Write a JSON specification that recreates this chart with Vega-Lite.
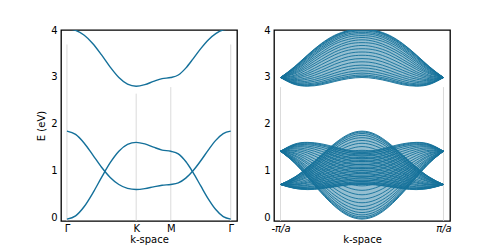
{
"$schema":"https://vega.github.io/schema/vega-lite/v6.json",
"background":"white",
"padding":{"left":35,"top":24,"right":5,"bottom":0},
"spacing":24,
"config":{"view":{"stroke":"#000","strokeWidth":1.3},"axis":{"grid":false,"domain":false,"ticks":false,"labelFont":"DejaVu Sans","labelFontSize":10,"labelColor":"#000","titleFont":"DejaVu Sans","titleFontSize":10,"titleFontWeight":"normal","titleColor":"#000","labelFlush":false,"labelOverlap":false}},
"datasets":{
"vl":[{"x":0,"t":3.69},{"x":4.1888,"t":2.64},{"x":6.2832,"t":2.78},{"x":9.9108,"t":3.69}],
"vr":[{"k":-180,"t":2.78},{"k":180,"t":2.78}],
"env":[
{"k":-180,"b":"A","lo":1.41,"hi":1.41},{"k":-150,"b":"A","lo":1.17,"hi":1.56},{"k":-120,"b":"A","lo":0.85,"hi":1.6},{"k":-90,"b":"A","lo":0.52,"hi":1.57},{"k":-60,"b":"A","lo":0.23,"hi":1.5},{"k":-30,"b":"A","lo":0.03,"hi":1.43},{"k":0,"b":"A","lo":-0.04,"hi":1.41},{"k":30,"b":"A","lo":0.03,"hi":1.43},{"k":60,"b":"A","lo":0.23,"hi":1.5},{"k":90,"b":"A","lo":0.52,"hi":1.57},{"k":120,"b":"A","lo":0.85,"hi":1.6},{"k":150,"b":"A","lo":1.17,"hi":1.56},{"k":180,"b":"A","lo":1.41,"hi":1.41},
{"k":-180,"b":"B","lo":0.7,"hi":0.7},{"k":-150,"b":"B","lo":0.62,"hi":0.85},{"k":-120,"b":"B","lo":0.59,"hi":1.07},{"k":-90,"b":"B","lo":0.61,"hi":1.33},{"k":-60,"b":"B","lo":0.65,"hi":1.58},{"k":-30,"b":"B","lo":0.69,"hi":1.77},{"k":0,"b":"B","lo":0.7,"hi":1.84},{"k":30,"b":"B","lo":0.69,"hi":1.77},{"k":60,"b":"B","lo":0.65,"hi":1.58},{"k":90,"b":"B","lo":0.61,"hi":1.33},{"k":120,"b":"B","lo":0.59,"hi":1.07},{"k":150,"b":"B","lo":0.62,"hi":0.85},{"k":180,"b":"B","lo":0.7,"hi":0.7},
{"k":-180,"b":"C","lo":2.985,"hi":2.985},{"k":-150,"b":"C","lo":2.84,"hi":3.21},{"k":-120,"b":"C","lo":2.8,"hi":3.47},{"k":-90,"b":"C","lo":2.83,"hi":3.71},{"k":-60,"b":"C","lo":2.9,"hi":3.89},{"k":-30,"b":"C","lo":2.96,"hi":3.99},{"k":0,"b":"C","lo":2.985,"hi":4.03},{"k":30,"b":"C","lo":2.96,"hi":3.99},{"k":60,"b":"C","lo":2.9,"hi":3.89},{"k":90,"b":"C","lo":2.83,"hi":3.71},{"k":120,"b":"C","lo":2.8,"hi":3.47},{"k":150,"b":"C","lo":2.84,"hi":3.21},{"k":180,"b":"C","lo":2.985,"hi":2.985}
],
"bands":[
{"x":0,"b":"A","e":-0.04},{"x":0.5236,"b":"A","e":0.03},{"x":1.0472,"b":"A","e":0.229},{"x":1.5708,"b":"A","e":0.52},{"x":2.0944,"b":"A","e":0.852},{"x":2.618,"b":"A","e":1.165},{"x":3.1416,"b":"A","e":1.41},{"x":3.6652,"b":"A","e":1.556},{"x":4.1888,"b":"A","e":1.6},{"x":4.7124,"b":"A","e":1.567},{"x":5.236,"b":"A","e":1.498},{"x":5.7596,"b":"A","e":1.435},{"x":6.2832,"b":"A","e":1.41},{"x":6.7367,"b":"A","e":1.353},{"x":7.1901,"b":"A","e":1.19},{"x":7.6436,"b":"A","e":0.949},{"x":8.097,"b":"A","e":0.669},{"x":8.5505,"b":"A","e":0.394},{"x":9.0039,"b":"A","e":0.165},{"x":9.4574,"b":"A","e":0.013},{"x":9.9108,"b":"A","e":-0.04},
{"x":0,"b":"B","e":1.84},{"x":0.5236,"b":"B","e":1.77},{"x":1.0472,"b":"B","e":1.582},{"x":1.5708,"b":"B","e":1.328},{"x":2.0944,"b":"B","e":1.068},{"x":2.618,"b":"B","e":0.851},{"x":3.1416,"b":"B","e":0.7},{"x":3.6652,"b":"B","e":0.617},{"x":4.1888,"b":"B","e":0.593},{"x":4.7124,"b":"B","e":0.611},{"x":5.236,"b":"B","e":0.649},{"x":5.7596,"b":"B","e":0.685},{"x":6.2832,"b":"B","e":0.7},{"x":6.7367,"b":"B","e":0.734},{"x":7.1901,"b":"B","e":0.835},{"x":7.6436,"b":"B","e":0.998},{"x":8.097,"b":"B","e":1.207},{"x":8.5505,"b":"B","e":1.434},{"x":9.0039,"b":"B","e":1.642},{"x":9.4574,"b":"B","e":1.787},{"x":9.9108,"b":"B","e":1.84},
{"x":0,"b":"C","e":4.026},{"x":0.5236,"b":"C","e":3.992},{"x":1.0472,"b":"C","e":3.887},{"x":1.5708,"b":"C","e":3.707},{"x":2.0944,"b":"C","e":3.467},{"x":2.618,"b":"C","e":3.208},{"x":3.1416,"b":"C","e":2.985},{"x":3.6652,"b":"C","e":2.844},{"x":4.1888,"b":"C","e":2.8},{"x":4.7124,"b":"C","e":2.833},{"x":5.236,"b":"C","e":2.901},{"x":5.7596,"b":"C","e":2.961},{"x":6.2832,"b":"C","e":2.985},{"x":6.7367,"b":"C","e":3.039},{"x":7.1901,"b":"C","e":3.186},{"x":7.6436,"b":"C","e":3.39},{"x":8.097,"b":"C","e":3.603},{"x":8.5505,"b":"C","e":3.788},{"x":9.0039,"b":"C","e":3.923},{"x":9.4574,"b":"C","e":4.001},{"x":9.9108,"b":"C","e":4.026}
],
"ribbon":[
{"k":-180,"l":"A0","e":1.41},{"k":-150,"l":"A0","e":1.17},{"k":-120,"l":"A0","e":0.85},{"k":-90,"l":"A0","e":0.52},{"k":-60,"l":"A0","e":0.23},{"k":-30,"l":"A0","e":0.03},{"k":0,"l":"A0","e":-0.04},{"k":30,"l":"A0","e":0.03},{"k":60,"l":"A0","e":0.23},{"k":90,"l":"A0","e":0.52},{"k":120,"l":"A0","e":0.85},{"k":150,"l":"A0","e":1.17},{"k":180,"l":"A0","e":1.41},
{"k":-180,"l":"A2","e":1.41},{"k":-150,"l":"A2","e":1.17},{"k":-120,"l":"A2","e":0.86},{"k":-90,"l":"A2","e":0.54},{"k":-60,"l":"A2","e":0.25},{"k":-30,"l":"A2","e":0.05},{"k":0,"l":"A2","e":-0.02},{"k":30,"l":"A2","e":0.05},{"k":60,"l":"A2","e":0.25},{"k":90,"l":"A2","e":0.54},{"k":120,"l":"A2","e":0.86},{"k":150,"l":"A2","e":1.17},{"k":180,"l":"A2","e":1.41},
{"k":-180,"l":"A3","e":1.41},{"k":-150,"l":"A3","e":1.18},{"k":-120,"l":"A3","e":0.88},{"k":-90,"l":"A3","e":0.56},{"k":-60,"l":"A3","e":0.28},{"k":-30,"l":"A3","e":0.08},{"k":0,"l":"A3","e":0.01},{"k":30,"l":"A3","e":0.08},{"k":60,"l":"A3","e":0.28},{"k":90,"l":"A3","e":0.56},{"k":120,"l":"A3","e":0.88},{"k":150,"l":"A3","e":1.18},{"k":180,"l":"A3","e":1.41},
{"k":-180,"l":"A4","e":1.41},{"k":-150,"l":"A4","e":1.19},{"k":-120,"l":"A4","e":0.9},{"k":-90,"l":"A4","e":0.59},{"k":-60,"l":"A4","e":0.31},{"k":-30,"l":"A4","e":0.12},{"k":0,"l":"A4","e":0.05},{"k":30,"l":"A4","e":0.12},{"k":60,"l":"A4","e":0.31},{"k":90,"l":"A4","e":0.59},{"k":120,"l":"A4","e":0.9},{"k":150,"l":"A4","e":1.19},{"k":180,"l":"A4","e":1.41},
{"k":-180,"l":"A5","e":1.41},{"k":-150,"l":"A5","e":1.21},{"k":-120,"l":"A5","e":0.93},{"k":-90,"l":"A5","e":0.63},{"k":-60,"l":"A5","e":0.36},{"k":-30,"l":"A5","e":0.17},{"k":0,"l":"A5","e":0.1},{"k":30,"l":"A5","e":0.17},{"k":60,"l":"A5","e":0.36},{"k":90,"l":"A5","e":0.63},{"k":120,"l":"A5","e":0.93},{"k":150,"l":"A5","e":1.21},{"k":180,"l":"A5","e":1.41},
{"k":-180,"l":"A6","e":1.41},{"k":-150,"l":"A6","e":1.22},{"k":-120,"l":"A6","e":0.96},{"k":-90,"l":"A6","e":0.67},{"k":-60,"l":"A6","e":0.41},{"k":-30,"l":"A6","e":0.23},{"k":0,"l":"A6","e":0.16},{"k":30,"l":"A6","e":0.23},{"k":60,"l":"A6","e":0.41},{"k":90,"l":"A6","e":0.67},{"k":120,"l":"A6","e":0.96},{"k":150,"l":"A6","e":1.22},{"k":180,"l":"A6","e":1.41},
{"k":-180,"l":"A7","e":1.41},{"k":-150,"l":"A7","e":1.24},{"k":-120,"l":"A7","e":1.0},{"k":-90,"l":"A7","e":0.72},{"k":-60,"l":"A7","e":0.47},{"k":-30,"l":"A7","e":0.3},{"k":0,"l":"A7","e":0.23},{"k":30,"l":"A7","e":0.3},{"k":60,"l":"A7","e":0.47},{"k":90,"l":"A7","e":0.72},{"k":120,"l":"A7","e":1.0},{"k":150,"l":"A7","e":1.24},{"k":180,"l":"A7","e":1.41},
{"k":-180,"l":"A8","e":1.41},{"k":-150,"l":"A8","e":1.26},{"k":-120,"l":"A8","e":1.04},{"k":-90,"l":"A8","e":0.78},{"k":-60,"l":"A8","e":0.54},{"k":-30,"l":"A8","e":0.37},{"k":0,"l":"A8","e":0.31},{"k":30,"l":"A8","e":0.37},{"k":60,"l":"A8","e":0.54},{"k":90,"l":"A8","e":0.78},{"k":120,"l":"A8","e":1.04},{"k":150,"l":"A8","e":1.26},{"k":180,"l":"A8","e":1.41},
{"k":-180,"l":"A9","e":1.41},{"k":-150,"l":"A9","e":1.28},{"k":-120,"l":"A9","e":1.08},{"k":-90,"l":"A9","e":0.84},{"k":-60,"l":"A9","e":0.61},{"k":-30,"l":"A9","e":0.45},{"k":0,"l":"A9","e":0.39},{"k":30,"l":"A9","e":0.45},{"k":60,"l":"A9","e":0.61},{"k":90,"l":"A9","e":0.84},{"k":120,"l":"A9","e":1.08},{"k":150,"l":"A9","e":1.28},{"k":180,"l":"A9","e":1.41},
{"k":-180,"l":"A10","e":1.41},{"k":-150,"l":"A10","e":1.31},{"k":-120,"l":"A10","e":1.13},{"k":-90,"l":"A10","e":0.9},{"k":-60,"l":"A10","e":0.69},{"k":-30,"l":"A10","e":0.54},{"k":0,"l":"A10","e":0.48},{"k":30,"l":"A10","e":0.54},{"k":60,"l":"A10","e":0.69},{"k":90,"l":"A10","e":0.9},{"k":120,"l":"A10","e":1.13},{"k":150,"l":"A10","e":1.31},{"k":180,"l":"A10","e":1.41},
{"k":-180,"l":"A11","e":1.41},{"k":-150,"l":"A11","e":1.33},{"k":-120,"l":"A11","e":1.17},{"k":-90,"l":"A11","e":0.97},{"k":-60,"l":"A11","e":0.77},{"k":-30,"l":"A11","e":0.63},{"k":0,"l":"A11","e":0.575},{"k":30,"l":"A11","e":0.63},{"k":60,"l":"A11","e":0.77},{"k":90,"l":"A11","e":0.97},{"k":120,"l":"A11","e":1.17},{"k":150,"l":"A11","e":1.33},{"k":180,"l":"A11","e":1.41},
{"k":-180,"l":"A12","e":1.41},{"k":-150,"l":"A12","e":1.36},{"k":-120,"l":"A12","e":1.22},{"k":-90,"l":"A12","e":1.04},{"k":-60,"l":"A12","e":0.85},{"k":-30,"l":"A12","e":0.72},{"k":0,"l":"A12","e":0.67},{"k":30,"l":"A12","e":0.72},{"k":60,"l":"A12","e":0.85},{"k":90,"l":"A12","e":1.04},{"k":120,"l":"A12","e":1.22},{"k":150,"l":"A12","e":1.36},{"k":180,"l":"A12","e":1.41},
{"k":-180,"l":"A13","e":1.41},{"k":-150,"l":"A13","e":1.38},{"k":-120,"l":"A13","e":1.27},{"k":-90,"l":"A13","e":1.1},{"k":-60,"l":"A13","e":0.93},{"k":-30,"l":"A13","e":0.81},{"k":0,"l":"A13","e":0.76},{"k":30,"l":"A13","e":0.81},{"k":60,"l":"A13","e":0.93},{"k":90,"l":"A13","e":1.1},{"k":120,"l":"A13","e":1.27},{"k":150,"l":"A13","e":1.38},{"k":180,"l":"A13","e":1.41},
{"k":-180,"l":"A14","e":1.41},{"k":-150,"l":"A14","e":1.41},{"k":-120,"l":"A14","e":1.32},{"k":-90,"l":"A14","e":1.17},{"k":-60,"l":"A14","e":1.02},{"k":-30,"l":"A14","e":0.9},{"k":0,"l":"A14","e":0.86},{"k":30,"l":"A14","e":0.9},{"k":60,"l":"A14","e":1.02},{"k":90,"l":"A14","e":1.17},{"k":120,"l":"A14","e":1.32},{"k":150,"l":"A14","e":1.41},{"k":180,"l":"A14","e":1.41},
{"k":-180,"l":"A15","e":1.41},{"k":-150,"l":"A15","e":1.43},{"k":-120,"l":"A15","e":1.37},{"k":-90,"l":"A15","e":1.24},{"k":-60,"l":"A15","e":1.1},{"k":-30,"l":"A15","e":0.99},{"k":0,"l":"A15","e":0.95},{"k":30,"l":"A15","e":0.99},{"k":60,"l":"A15","e":1.1},{"k":90,"l":"A15","e":1.24},{"k":120,"l":"A15","e":1.37},{"k":150,"l":"A15","e":1.43},{"k":180,"l":"A15","e":1.41},
{"k":-180,"l":"A16","e":1.41},{"k":-150,"l":"A16","e":1.46},{"k":-120,"l":"A16","e":1.41},{"k":-90,"l":"A16","e":1.3},{"k":-60,"l":"A16","e":1.17},{"k":-30,"l":"A16","e":1.07},{"k":0,"l":"A16","e":1.04},{"k":30,"l":"A16","e":1.07},{"k":60,"l":"A16","e":1.17},{"k":90,"l":"A16","e":1.3},{"k":120,"l":"A16","e":1.41},{"k":150,"l":"A16","e":1.46},{"k":180,"l":"A16","e":1.41},
{"k":-180,"l":"A17","e":1.41},{"k":-150,"l":"A17","e":1.48},{"k":-120,"l":"A17","e":1.45},{"k":-90,"l":"A17","e":1.36},{"k":-60,"l":"A17","e":1.24},{"k":-30,"l":"A17","e":1.15},{"k":0,"l":"A17","e":1.12},{"k":30,"l":"A17","e":1.15},{"k":60,"l":"A17","e":1.24},{"k":90,"l":"A17","e":1.36},{"k":120,"l":"A17","e":1.45},{"k":150,"l":"A17","e":1.48},{"k":180,"l":"A17","e":1.41},
{"k":-180,"l":"A18","e":1.41},{"k":-150,"l":"A18","e":1.5},{"k":-120,"l":"A18","e":1.49},{"k":-90,"l":"A18","e":1.41},{"k":-60,"l":"A18","e":1.31},{"k":-30,"l":"A18","e":1.22},{"k":0,"l":"A18","e":1.19},{"k":30,"l":"A18","e":1.22},{"k":60,"l":"A18","e":1.31},{"k":90,"l":"A18","e":1.41},{"k":120,"l":"A18","e":1.49},{"k":150,"l":"A18","e":1.5},{"k":180,"l":"A18","e":1.41},
{"k":-180,"l":"A19","e":1.41},{"k":-150,"l":"A19","e":1.515},{"k":-120,"l":"A19","e":1.52},{"k":-90,"l":"A19","e":1.46},{"k":-60,"l":"A19","e":1.36},{"k":-30,"l":"A19","e":1.28},{"k":0,"l":"A19","e":1.25},{"k":30,"l":"A19","e":1.28},{"k":60,"l":"A19","e":1.36},{"k":90,"l":"A19","e":1.46},{"k":120,"l":"A19","e":1.52},{"k":150,"l":"A19","e":1.515},{"k":180,"l":"A19","e":1.41},
{"k":-180,"l":"A20","e":1.41},{"k":-150,"l":"A20","e":1.53},{"k":-120,"l":"A20","e":1.55},{"k":-90,"l":"A20","e":1.5},{"k":-60,"l":"A20","e":1.41},{"k":-30,"l":"A20","e":1.34},{"k":0,"l":"A20","e":1.31},{"k":30,"l":"A20","e":1.34},{"k":60,"l":"A20","e":1.41},{"k":90,"l":"A20","e":1.5},{"k":120,"l":"A20","e":1.55},{"k":150,"l":"A20","e":1.53},{"k":180,"l":"A20","e":1.41},
{"k":-180,"l":"A21","e":1.41},{"k":-150,"l":"A21","e":1.54},{"k":-120,"l":"A21","e":1.57},{"k":-90,"l":"A21","e":1.53},{"k":-60,"l":"A21","e":1.45},{"k":-30,"l":"A21","e":1.38},{"k":0,"l":"A21","e":1.35},{"k":30,"l":"A21","e":1.38},{"k":60,"l":"A21","e":1.45},{"k":90,"l":"A21","e":1.53},{"k":120,"l":"A21","e":1.57},{"k":150,"l":"A21","e":1.54},{"k":180,"l":"A21","e":1.41},
{"k":-180,"l":"A22","e":1.41},{"k":-150,"l":"A22","e":1.55},{"k":-120,"l":"A22","e":1.59},{"k":-90,"l":"A22","e":1.55},{"k":-60,"l":"A22","e":1.48},{"k":-30,"l":"A22","e":1.41},{"k":0,"l":"A22","e":1.38},{"k":30,"l":"A22","e":1.41},{"k":60,"l":"A22","e":1.48},{"k":90,"l":"A22","e":1.55},{"k":120,"l":"A22","e":1.59},{"k":150,"l":"A22","e":1.55},{"k":180,"l":"A22","e":1.41},
{"k":-180,"l":"A24","e":1.41},{"k":-150,"l":"A24","e":1.56},{"k":-120,"l":"A24","e":1.6},{"k":-90,"l":"A24","e":1.57},{"k":-60,"l":"A24","e":1.5},{"k":-30,"l":"A24","e":1.43},{"k":0,"l":"A24","e":1.41},{"k":30,"l":"A24","e":1.43},{"k":60,"l":"A24","e":1.5},{"k":90,"l":"A24","e":1.57},{"k":120,"l":"A24","e":1.6},{"k":150,"l":"A24","e":1.56},{"k":180,"l":"A24","e":1.41},
{"k":-180,"l":"B0","e":0.7},{"k":-150,"l":"B0","e":0.85},{"k":-120,"l":"B0","e":1.07},{"k":-90,"l":"B0","e":1.33},{"k":-60,"l":"B0","e":1.58},{"k":-30,"l":"B0","e":1.77},{"k":0,"l":"B0","e":1.84},{"k":30,"l":"B0","e":1.77},{"k":60,"l":"B0","e":1.58},{"k":90,"l":"B0","e":1.33},{"k":120,"l":"B0","e":1.07},{"k":150,"l":"B0","e":0.85},{"k":180,"l":"B0","e":0.7},
{"k":-180,"l":"B2","e":0.7},{"k":-150,"l":"B2","e":0.85},{"k":-120,"l":"B2","e":1.06},{"k":-90,"l":"B2","e":1.31},{"k":-60,"l":"B2","e":1.56},{"k":-30,"l":"B2","e":1.75},{"k":0,"l":"B2","e":1.82},{"k":30,"l":"B2","e":1.75},{"k":60,"l":"B2","e":1.56},{"k":90,"l":"B2","e":1.31},{"k":120,"l":"B2","e":1.06},{"k":150,"l":"B2","e":0.85},{"k":180,"l":"B2","e":0.7},
{"k":-180,"l":"B3","e":0.7},{"k":-150,"l":"B3","e":0.84},{"k":-120,"l":"B3","e":1.05},{"k":-90,"l":"B3","e":1.3},{"k":-60,"l":"B3","e":1.54},{"k":-30,"l":"B3","e":1.72},{"k":0,"l":"B3","e":1.79},{"k":30,"l":"B3","e":1.72},{"k":60,"l":"B3","e":1.54},{"k":90,"l":"B3","e":1.3},{"k":120,"l":"B3","e":1.05},{"k":150,"l":"B3","e":0.84},{"k":180,"l":"B3","e":0.7},
{"k":-180,"l":"B4","e":0.7},{"k":-150,"l":"B4","e":0.83},{"k":-120,"l":"B4","e":1.03},{"k":-90,"l":"B4","e":1.27},{"k":-60,"l":"B4","e":1.51},{"k":-30,"l":"B4","e":1.68},{"k":0,"l":"B4","e":1.75},{"k":30,"l":"B4","e":1.68},{"k":60,"l":"B4","e":1.51},{"k":90,"l":"B4","e":1.27},{"k":120,"l":"B4","e":1.03},{"k":150,"l":"B4","e":0.83},{"k":180,"l":"B4","e":0.7},
{"k":-180,"l":"B5","e":0.7},{"k":-150,"l":"B5","e":0.83},{"k":-120,"l":"B5","e":1.01},{"k":-90,"l":"B5","e":1.24},{"k":-60,"l":"B5","e":1.47},{"k":-30,"l":"B5","e":1.64},{"k":0,"l":"B5","e":1.7},{"k":30,"l":"B5","e":1.64},{"k":60,"l":"B5","e":1.47},{"k":90,"l":"B5","e":1.24},{"k":120,"l":"B5","e":1.01},{"k":150,"l":"B5","e":0.83},{"k":180,"l":"B5","e":0.7},
{"k":-180,"l":"B6","e":0.7},{"k":-150,"l":"B6","e":0.81},{"k":-120,"l":"B6","e":0.99},{"k":-90,"l":"B6","e":1.21},{"k":-60,"l":"B6","e":1.42},{"k":-30,"l":"B6","e":1.58},{"k":0,"l":"B6","e":1.64},{"k":30,"l":"B6","e":1.58},{"k":60,"l":"B6","e":1.42},{"k":90,"l":"B6","e":1.21},{"k":120,"l":"B6","e":0.99},{"k":150,"l":"B6","e":0.81},{"k":180,"l":"B6","e":0.7},
{"k":-180,"l":"B7","e":0.7},{"k":-150,"l":"B7","e":0.8},{"k":-120,"l":"B7","e":0.97},{"k":-90,"l":"B7","e":1.17},{"k":-60,"l":"B7","e":1.37},{"k":-30,"l":"B7","e":1.52},{"k":0,"l":"B7","e":1.58},{"k":30,"l":"B7","e":1.52},{"k":60,"l":"B7","e":1.37},{"k":90,"l":"B7","e":1.17},{"k":120,"l":"B7","e":0.97},{"k":150,"l":"B7","e":0.8},{"k":180,"l":"B7","e":0.7},
{"k":-180,"l":"B8","e":0.7},{"k":-150,"l":"B8","e":0.79},{"k":-120,"l":"B8","e":0.94},{"k":-90,"l":"B8","e":1.12},{"k":-60,"l":"B8","e":1.31},{"k":-30,"l":"B8","e":1.45},{"k":0,"l":"B8","e":1.51},{"k":30,"l":"B8","e":1.45},{"k":60,"l":"B8","e":1.31},{"k":90,"l":"B8","e":1.12},{"k":120,"l":"B8","e":0.94},{"k":150,"l":"B8","e":0.79},{"k":180,"l":"B8","e":0.7},
{"k":-180,"l":"B9","e":0.7},{"k":-150,"l":"B9","e":0.78},{"k":-120,"l":"B9","e":0.91},{"k":-90,"l":"B9","e":1.08},{"k":-60,"l":"B9","e":1.25},{"k":-30,"l":"B9","e":1.39},{"k":0,"l":"B9","e":1.43},{"k":30,"l":"B9","e":1.39},{"k":60,"l":"B9","e":1.25},{"k":90,"l":"B9","e":1.08},{"k":120,"l":"B9","e":0.91},{"k":150,"l":"B9","e":0.78},{"k":180,"l":"B9","e":0.7},
{"k":-180,"l":"B10","e":0.7},{"k":-150,"l":"B10","e":0.76},{"k":-120,"l":"B10","e":0.88},{"k":-90,"l":"B10","e":1.03},{"k":-60,"l":"B10","e":1.19},{"k":-30,"l":"B10","e":1.31},{"k":0,"l":"B10","e":1.36},{"k":30,"l":"B10","e":1.31},{"k":60,"l":"B10","e":1.19},{"k":90,"l":"B10","e":1.03},{"k":120,"l":"B10","e":0.88},{"k":150,"l":"B10","e":0.76},{"k":180,"l":"B10","e":0.7},
{"k":-180,"l":"B11","e":0.7},{"k":-150,"l":"B11","e":0.75},{"k":-120,"l":"B11","e":0.85},{"k":-90,"l":"B11","e":0.98},{"k":-60,"l":"B11","e":1.13},{"k":-30,"l":"B11","e":1.24},{"k":0,"l":"B11","e":1.28},{"k":30,"l":"B11","e":1.24},{"k":60,"l":"B11","e":1.13},{"k":90,"l":"B11","e":0.98},{"k":120,"l":"B11","e":0.85},{"k":150,"l":"B11","e":0.75},{"k":180,"l":"B11","e":0.7},
{"k":-180,"l":"B12","e":0.7},{"k":-150,"l":"B12","e":0.73},{"k":-120,"l":"B12","e":0.81},{"k":-90,"l":"B12","e":0.94},{"k":-60,"l":"B12","e":1.07},{"k":-30,"l":"B12","e":1.17},{"k":0,"l":"B12","e":1.21},{"k":30,"l":"B12","e":1.17},{"k":60,"l":"B12","e":1.07},{"k":90,"l":"B12","e":0.94},{"k":120,"l":"B12","e":0.81},{"k":150,"l":"B12","e":0.73},{"k":180,"l":"B12","e":0.7},
{"k":-180,"l":"B13","e":0.7},{"k":-150,"l":"B13","e":0.71},{"k":-120,"l":"B13","e":0.78},{"k":-90,"l":"B13","e":0.89},{"k":-60,"l":"B13","e":1.01},{"k":-30,"l":"B13","e":1.1},{"k":0,"l":"B13","e":1.13},{"k":30,"l":"B13","e":1.1},{"k":60,"l":"B13","e":1.01},{"k":90,"l":"B13","e":0.89},{"k":120,"l":"B13","e":0.78},{"k":150,"l":"B13","e":0.71},{"k":180,"l":"B13","e":0.7},
{"k":-180,"l":"B14","e":0.7},{"k":-150,"l":"B14","e":0.7},{"k":-120,"l":"B14","e":0.75},{"k":-90,"l":"B14","e":0.85},{"k":-60,"l":"B14","e":0.95},{"k":-30,"l":"B14","e":1.03},{"k":0,"l":"B14","e":1.06},{"k":30,"l":"B14","e":1.03},{"k":60,"l":"B14","e":0.95},{"k":90,"l":"B14","e":0.85},{"k":120,"l":"B14","e":0.75},{"k":150,"l":"B14","e":0.7},{"k":180,"l":"B14","e":0.7},
{"k":-180,"l":"B15","e":0.7},{"k":-150,"l":"B15","e":0.69},{"k":-120,"l":"B15","e":0.73},{"k":-90,"l":"B15","e":0.81},{"k":-60,"l":"B15","e":0.9},{"k":-30,"l":"B15","e":0.97},{"k":0,"l":"B15","e":1.0},{"k":30,"l":"B15","e":0.97},{"k":60,"l":"B15","e":0.9},{"k":90,"l":"B15","e":0.81},{"k":120,"l":"B15","e":0.73},{"k":150,"l":"B15","e":0.69},{"k":180,"l":"B15","e":0.7},
{"k":-180,"l":"B16","e":0.7},{"k":-150,"l":"B16","e":0.67},{"k":-120,"l":"B16","e":0.7},{"k":-90,"l":"B16","e":0.77},{"k":-60,"l":"B16","e":0.85},{"k":-30,"l":"B16","e":0.91},{"k":0,"l":"B16","e":0.94},{"k":30,"l":"B16","e":0.91},{"k":60,"l":"B16","e":0.85},{"k":90,"l":"B16","e":0.77},{"k":120,"l":"B16","e":0.7},{"k":150,"l":"B16","e":0.67},{"k":180,"l":"B16","e":0.7},
{"k":-180,"l":"B17","e":0.7},{"k":-150,"l":"B17","e":0.66},{"k":-120,"l":"B17","e":0.68},{"k":-90,"l":"B17","e":0.73},{"k":-60,"l":"B17","e":0.8},{"k":-30,"l":"B17","e":0.86},{"k":0,"l":"B17","e":0.88},{"k":30,"l":"B17","e":0.86},{"k":60,"l":"B17","e":0.8},{"k":90,"l":"B17","e":0.73},{"k":120,"l":"B17","e":0.68},{"k":150,"l":"B17","e":0.66},{"k":180,"l":"B17","e":0.7},
{"k":-180,"l":"B18","e":0.7},{"k":-150,"l":"B18","e":0.65},{"k":-120,"l":"B18","e":0.65},{"k":-90,"l":"B18","e":0.7},{"k":-60,"l":"B18","e":0.76},{"k":-30,"l":"B18","e":0.81},{"k":0,"l":"B18","e":0.84},{"k":30,"l":"B18","e":0.81},{"k":60,"l":"B18","e":0.76},{"k":90,"l":"B18","e":0.7},{"k":120,"l":"B18","e":0.65},{"k":150,"l":"B18","e":0.65},{"k":180,"l":"B18","e":0.7},
{"k":-180,"l":"B19","e":0.7},{"k":-150,"l":"B19","e":0.64},{"k":-120,"l":"B19","e":0.64},{"k":-90,"l":"B19","e":0.67},{"k":-60,"l":"B19","e":0.73},{"k":-30,"l":"B19","e":0.78},{"k":0,"l":"B19","e":0.79},{"k":30,"l":"B19","e":0.78},{"k":60,"l":"B19","e":0.73},{"k":90,"l":"B19","e":0.67},{"k":120,"l":"B19","e":0.64},{"k":150,"l":"B19","e":0.64},{"k":180,"l":"B19","e":0.7},
{"k":-180,"l":"B20","e":0.7},{"k":-150,"l":"B20","e":0.63},{"k":-120,"l":"B20","e":0.62},{"k":-90,"l":"B20","e":0.65},{"k":-60,"l":"B20","e":0.7},{"k":-30,"l":"B20","e":0.74},{"k":0,"l":"B20","e":0.76},{"k":30,"l":"B20","e":0.74},{"k":60,"l":"B20","e":0.7},{"k":90,"l":"B20","e":0.65},{"k":120,"l":"B20","e":0.62},{"k":150,"l":"B20","e":0.63},{"k":180,"l":"B20","e":0.7},
{"k":-180,"l":"B21","e":0.7},{"k":-150,"l":"B21","e":0.63},{"k":-120,"l":"B21","e":0.61},{"k":-90,"l":"B21","e":0.63},{"k":-60,"l":"B21","e":0.68},{"k":-30,"l":"B21","e":0.72},{"k":0,"l":"B21","e":0.73},{"k":30,"l":"B21","e":0.72},{"k":60,"l":"B21","e":0.68},{"k":90,"l":"B21","e":0.63},{"k":120,"l":"B21","e":0.61},{"k":150,"l":"B21","e":0.63},{"k":180,"l":"B21","e":0.7},
{"k":-180,"l":"B22","e":0.7},{"k":-150,"l":"B22","e":0.62},{"k":-120,"l":"B22","e":0.6},{"k":-90,"l":"B22","e":0.62},{"k":-60,"l":"B22","e":0.66},{"k":-30,"l":"B22","e":0.7},{"k":0,"l":"B22","e":0.72},{"k":30,"l":"B22","e":0.7},{"k":60,"l":"B22","e":0.66},{"k":90,"l":"B22","e":0.62},{"k":120,"l":"B22","e":0.6},{"k":150,"l":"B22","e":0.62},{"k":180,"l":"B22","e":0.7},
{"k":-180,"l":"B24","e":0.7},{"k":-150,"l":"B24","e":0.62},{"k":-120,"l":"B24","e":0.59},{"k":-90,"l":"B24","e":0.61},{"k":-60,"l":"B24","e":0.65},{"k":-30,"l":"B24","e":0.69},{"k":0,"l":"B24","e":0.7},{"k":30,"l":"B24","e":0.69},{"k":60,"l":"B24","e":0.65},{"k":90,"l":"B24","e":0.61},{"k":120,"l":"B24","e":0.59},{"k":150,"l":"B24","e":0.62},{"k":180,"l":"B24","e":0.7},
{"k":-180,"l":"C0","e":2.985},{"k":-150,"l":"C0","e":3.21},{"k":-120,"l":"C0","e":3.47},{"k":-90,"l":"C0","e":3.71},{"k":-60,"l":"C0","e":3.89},{"k":-30,"l":"C0","e":3.99},{"k":0,"l":"C0","e":4.03},{"k":30,"l":"C0","e":3.99},{"k":60,"l":"C0","e":3.89},{"k":90,"l":"C0","e":3.71},{"k":120,"l":"C0","e":3.47},{"k":150,"l":"C0","e":3.21},{"k":180,"l":"C0","e":2.985},
{"k":-180,"l":"C2","e":2.985},{"k":-150,"l":"C2","e":3.2},{"k":-120,"l":"C2","e":3.46},{"k":-90,"l":"C2","e":3.7},{"k":-60,"l":"C2","e":3.875},{"k":-30,"l":"C2","e":3.98},{"k":0,"l":"C2","e":4.015},{"k":30,"l":"C2","e":3.98},{"k":60,"l":"C2","e":3.875},{"k":90,"l":"C2","e":3.7},{"k":120,"l":"C2","e":3.46},{"k":150,"l":"C2","e":3.2},{"k":180,"l":"C2","e":2.985},
{"k":-180,"l":"C3","e":2.985},{"k":-150,"l":"C3","e":3.19},{"k":-120,"l":"C3","e":3.45},{"k":-90,"l":"C3","e":3.68},{"k":-60,"l":"C3","e":3.86},{"k":-30,"l":"C3","e":3.97},{"k":0,"l":"C3","e":4.0},{"k":30,"l":"C3","e":3.97},{"k":60,"l":"C3","e":3.86},{"k":90,"l":"C3","e":3.68},{"k":120,"l":"C3","e":3.45},{"k":150,"l":"C3","e":3.19},{"k":180,"l":"C3","e":2.985},
{"k":-180,"l":"C4","e":2.985},{"k":-150,"l":"C4","e":3.19},{"k":-120,"l":"C4","e":3.43},{"k":-90,"l":"C4","e":3.66},{"k":-60,"l":"C4","e":3.84},{"k":-30,"l":"C4","e":3.95},{"k":0,"l":"C4","e":3.98},{"k":30,"l":"C4","e":3.95},{"k":60,"l":"C4","e":3.84},{"k":90,"l":"C4","e":3.66},{"k":120,"l":"C4","e":3.43},{"k":150,"l":"C4","e":3.19},{"k":180,"l":"C4","e":2.985},
{"k":-180,"l":"C5","e":2.985},{"k":-150,"l":"C5","e":3.17},{"k":-120,"l":"C5","e":3.41},{"k":-90,"l":"C5","e":3.63},{"k":-60,"l":"C5","e":3.81},{"k":-30,"l":"C5","e":3.92},{"k":0,"l":"C5","e":3.95},{"k":30,"l":"C5","e":3.92},{"k":60,"l":"C5","e":3.81},{"k":90,"l":"C5","e":3.63},{"k":120,"l":"C5","e":3.41},{"k":150,"l":"C5","e":3.17},{"k":180,"l":"C5","e":2.985},
{"k":-180,"l":"C6","e":2.985},{"k":-150,"l":"C6","e":3.16},{"k":-120,"l":"C6","e":3.38},{"k":-90,"l":"C6","e":3.6},{"k":-60,"l":"C6","e":3.78},{"k":-30,"l":"C6","e":3.89},{"k":0,"l":"C6","e":3.92},{"k":30,"l":"C6","e":3.89},{"k":60,"l":"C6","e":3.78},{"k":90,"l":"C6","e":3.6},{"k":120,"l":"C6","e":3.38},{"k":150,"l":"C6","e":3.16},{"k":180,"l":"C6","e":2.985},
{"k":-180,"l":"C7","e":2.985},{"k":-150,"l":"C7","e":3.14},{"k":-120,"l":"C7","e":3.35},{"k":-90,"l":"C7","e":3.57},{"k":-60,"l":"C7","e":3.74},{"k":-30,"l":"C7","e":3.85},{"k":0,"l":"C7","e":3.88},{"k":30,"l":"C7","e":3.85},{"k":60,"l":"C7","e":3.74},{"k":90,"l":"C7","e":3.57},{"k":120,"l":"C7","e":3.35},{"k":150,"l":"C7","e":3.14},{"k":180,"l":"C7","e":2.985},
{"k":-180,"l":"C8","e":2.985},{"k":-150,"l":"C8","e":3.12},{"k":-120,"l":"C8","e":3.32},{"k":-90,"l":"C8","e":3.52},{"k":-60,"l":"C8","e":3.7},{"k":-30,"l":"C8","e":3.8},{"k":0,"l":"C8","e":3.84},{"k":30,"l":"C8","e":3.8},{"k":60,"l":"C8","e":3.7},{"k":90,"l":"C8","e":3.52},{"k":120,"l":"C8","e":3.32},{"k":150,"l":"C8","e":3.12},{"k":180,"l":"C8","e":2.985},
{"k":-180,"l":"C9","e":2.985},{"k":-150,"l":"C9","e":3.1},{"k":-120,"l":"C9","e":3.28},{"k":-90,"l":"C9","e":3.48},{"k":-60,"l":"C9","e":3.64},{"k":-30,"l":"C9","e":3.75},{"k":0,"l":"C9","e":3.79},{"k":30,"l":"C9","e":3.75},{"k":60,"l":"C9","e":3.64},{"k":90,"l":"C9","e":3.48},{"k":120,"l":"C9","e":3.28},{"k":150,"l":"C9","e":3.1},{"k":180,"l":"C9","e":2.985},
{"k":-180,"l":"C10","e":2.985},{"k":-150,"l":"C10","e":3.08},{"k":-120,"l":"C10","e":3.24},{"k":-90,"l":"C10","e":3.43},{"k":-60,"l":"C10","e":3.59},{"k":-30,"l":"C10","e":3.7},{"k":0,"l":"C10","e":3.73},{"k":30,"l":"C10","e":3.7},{"k":60,"l":"C10","e":3.59},{"k":90,"l":"C10","e":3.43},{"k":120,"l":"C10","e":3.24},{"k":150,"l":"C10","e":3.08},{"k":180,"l":"C10","e":2.985},
{"k":-180,"l":"C11","e":2.985},{"k":-150,"l":"C11","e":3.06},{"k":-120,"l":"C11","e":3.2},{"k":-90,"l":"C11","e":3.37},{"k":-60,"l":"C11","e":3.53},{"k":-30,"l":"C11","e":3.63},{"k":0,"l":"C11","e":3.67},{"k":30,"l":"C11","e":3.63},{"k":60,"l":"C11","e":3.53},{"k":90,"l":"C11","e":3.37},{"k":120,"l":"C11","e":3.2},{"k":150,"l":"C11","e":3.06},{"k":180,"l":"C11","e":2.985},
{"k":-180,"l":"C12","e":2.985},{"k":-150,"l":"C12","e":3.03},{"k":-120,"l":"C12","e":3.16},{"k":-90,"l":"C12","e":3.32},{"k":-60,"l":"C12","e":3.47},{"k":-30,"l":"C12","e":3.57},{"k":0,"l":"C12","e":3.6},{"k":30,"l":"C12","e":3.57},{"k":60,"l":"C12","e":3.47},{"k":90,"l":"C12","e":3.32},{"k":120,"l":"C12","e":3.16},{"k":150,"l":"C12","e":3.03},{"k":180,"l":"C12","e":2.985},
{"k":-180,"l":"C13","e":2.985},{"k":-150,"l":"C13","e":3.01},{"k":-120,"l":"C13","e":3.11},{"k":-90,"l":"C13","e":3.26},{"k":-60,"l":"C13","e":3.4},{"k":-30,"l":"C13","e":3.5},{"k":0,"l":"C13","e":3.53},{"k":30,"l":"C13","e":3.5},{"k":60,"l":"C13","e":3.4},{"k":90,"l":"C13","e":3.26},{"k":120,"l":"C13","e":3.11},{"k":150,"l":"C13","e":3.01},{"k":180,"l":"C13","e":2.985},
{"k":-180,"l":"C14","e":2.985},{"k":-150,"l":"C14","e":2.985},{"k":-120,"l":"C14","e":3.07},{"k":-90,"l":"C14","e":3.2},{"k":-60,"l":"C14","e":3.33},{"k":-30,"l":"C14","e":3.43},{"k":0,"l":"C14","e":3.46},{"k":30,"l":"C14","e":3.43},{"k":60,"l":"C14","e":3.33},{"k":90,"l":"C14","e":3.2},{"k":120,"l":"C14","e":3.07},{"k":150,"l":"C14","e":2.985},{"k":180,"l":"C14","e":2.985},
{"k":-180,"l":"C15","e":2.985},{"k":-150,"l":"C15","e":2.96},{"k":-120,"l":"C15","e":3.03},{"k":-90,"l":"C15","e":3.14},{"k":-60,"l":"C15","e":3.27},{"k":-30,"l":"C15","e":3.36},{"k":0,"l":"C15","e":3.39},{"k":30,"l":"C15","e":3.36},{"k":60,"l":"C15","e":3.27},{"k":90,"l":"C15","e":3.14},{"k":120,"l":"C15","e":3.03},{"k":150,"l":"C15","e":2.96},{"k":180,"l":"C15","e":2.985},
{"k":-180,"l":"C16","e":2.985},{"k":-150,"l":"C16","e":2.94},{"k":-120,"l":"C16","e":2.985},{"k":-90,"l":"C16","e":3.09},{"k":-60,"l":"C16","e":3.2},{"k":-30,"l":"C16","e":3.29},{"k":0,"l":"C16","e":3.32},{"k":30,"l":"C16","e":3.29},{"k":60,"l":"C16","e":3.2},{"k":90,"l":"C16","e":3.09},{"k":120,"l":"C16","e":2.985},{"k":150,"l":"C16","e":2.94},{"k":180,"l":"C16","e":2.985},
{"k":-180,"l":"C17","e":2.985},{"k":-150,"l":"C17","e":2.92},{"k":-120,"l":"C17","e":2.95},{"k":-90,"l":"C17","e":3.03},{"k":-60,"l":"C17","e":3.14},{"k":-30,"l":"C17","e":3.22},{"k":0,"l":"C17","e":3.25},{"k":30,"l":"C17","e":3.22},{"k":60,"l":"C17","e":3.14},{"k":90,"l":"C17","e":3.03},{"k":120,"l":"C17","e":2.95},{"k":150,"l":"C17","e":2.92},{"k":180,"l":"C17","e":2.985},
{"k":-180,"l":"C18","e":2.985},{"k":-150,"l":"C18","e":2.9},{"k":-120,"l":"C18","e":2.91},{"k":-90,"l":"C18","e":2.985},{"k":-60,"l":"C18","e":3.08},{"k":-30,"l":"C18","e":3.16},{"k":0,"l":"C18","e":3.19},{"k":30,"l":"C18","e":3.16},{"k":60,"l":"C18","e":3.08},{"k":90,"l":"C18","e":2.985},{"k":120,"l":"C18","e":2.91},{"k":150,"l":"C18","e":2.9},{"k":180,"l":"C18","e":2.985},
{"k":-180,"l":"C19","e":2.985},{"k":-150,"l":"C19","e":2.88},{"k":-120,"l":"C19","e":2.88},{"k":-90,"l":"C19","e":2.94},{"k":-60,"l":"C19","e":3.03},{"k":-30,"l":"C19","e":3.1},{"k":0,"l":"C19","e":3.13},{"k":30,"l":"C19","e":3.1},{"k":60,"l":"C19","e":3.03},{"k":90,"l":"C19","e":2.94},{"k":120,"l":"C19","e":2.88},{"k":150,"l":"C19","e":2.88},{"k":180,"l":"C19","e":2.985},
{"k":-180,"l":"C20","e":2.985},{"k":-150,"l":"C20","e":2.87},{"k":-120,"l":"C20","e":2.85},{"k":-90,"l":"C20","e":2.9},{"k":-60,"l":"C20","e":2.985},{"k":-30,"l":"C20","e":3.05},{"k":0,"l":"C20","e":3.08},{"k":30,"l":"C20","e":3.05},{"k":60,"l":"C20","e":2.985},{"k":90,"l":"C20","e":2.9},{"k":120,"l":"C20","e":2.85},{"k":150,"l":"C20","e":2.87},{"k":180,"l":"C20","e":2.985},
{"k":-180,"l":"C21","e":2.985},{"k":-150,"l":"C21","e":2.86},{"k":-120,"l":"C21","e":2.83},{"k":-90,"l":"C21","e":2.87},{"k":-60,"l":"C21","e":2.95},{"k":-30,"l":"C21","e":3.01},{"k":0,"l":"C21","e":3.04},{"k":30,"l":"C21","e":3.01},{"k":60,"l":"C21","e":2.95},{"k":90,"l":"C21","e":2.87},{"k":120,"l":"C21","e":2.83},{"k":150,"l":"C21","e":2.86},{"k":180,"l":"C21","e":2.985},
{"k":-180,"l":"C22","e":2.985},{"k":-150,"l":"C22","e":2.85},{"k":-120,"l":"C22","e":2.81},{"k":-90,"l":"C22","e":2.85},{"k":-60,"l":"C22","e":2.92},{"k":-30,"l":"C22","e":2.985},{"k":0,"l":"C22","e":3.01},{"k":30,"l":"C22","e":2.985},{"k":60,"l":"C22","e":2.92},{"k":90,"l":"C22","e":2.85},{"k":120,"l":"C22","e":2.81},{"k":150,"l":"C22","e":2.85},{"k":180,"l":"C22","e":2.985},
{"k":-180,"l":"C24","e":2.985},{"k":-150,"l":"C24","e":2.84},{"k":-120,"l":"C24","e":2.8},{"k":-90,"l":"C24","e":2.83},{"k":-60,"l":"C24","e":2.9},{"k":-30,"l":"C24","e":2.96},{"k":0,"l":"C24","e":2.985},{"k":30,"l":"C24","e":2.96},{"k":60,"l":"C24","e":2.9},{"k":90,"l":"C24","e":2.83},{"k":120,"l":"C24","e":2.8},{"k":150,"l":"C24","e":2.84},{"k":180,"l":"C24","e":2.985}
]},
"hconcat":[
{"width":176,"height":191,
"layer":[
{"data":{"name":"vl"},"mark":{"type":"rule","color":"#d0d0d0","strokeWidth":0.8},
"encoding":{"x":{"field":"x","type":"quantitative","scale":{"domain":[-0.36,10.29],"nice":false,"zero":false},"axis":{"values":[0,4.1888,6.2832,9.9108],"labelExpr":"datum.value < 1 ? 'Γ' : (datum.value < 5 ? 'K' : (datum.value < 7 ? 'M' : 'Γ'))","title":"k-space","labelPadding":2,"titlePadding":1}},
"y":{"field":"t","type":"quantitative","scale":{"domain":[-0.08,4],"nice":false,"zero":false},"axis":{"values":[0,1,2,3,4],"format":"d","title":"E (eV)","labelPadding":4,"titlePadding":4}},
"y2":{"datum":-0.08}}},
{"data":{"name":"bands"},"mark":{"type":"line","color":"#14709a","strokeWidth":1.4,"interpolate":"monotone","clip":true},
"encoding":{"x":{"field":"x","type":"quantitative"},"y":{"field":"e","type":"quantitative"},"detail":{"field":"b"}}}
]},
{"width":176,"height":191,
"layer":[
{"data":{"name":"vr"},"mark":{"type":"rule","color":"#d0d0d0","strokeWidth":0.8},
"encoding":{"x":{"field":"k","type":"quantitative","scale":{"domain":[-194.4,194.4],"nice":false,"zero":false},"axis":{"values":[-180,180],"labelExpr":"datum.value < 0 ? '-π/a' : 'π/a'","labelFontStyle":"italic","title":"k-space","labelPadding":2,"titlePadding":1}},
"y":{"field":"t","type":"quantitative","scale":{"domain":[-0.08,4],"nice":false,"zero":false},"axis":{"values":[0,1,2,3,4],"format":"d","title":null,"labelPadding":4}},
"y2":{"datum":-0.08}}},
{"data":{"name":"env"},"mark":{"type":"area","color":"#14709a","opacity":0.45,"interpolate":"natural","clip":true},
"encoding":{"x":{"field":"k","type":"quantitative"},"y":{"field":"lo","type":"quantitative"},"y2":{"field":"hi"},"detail":{"field":"b"}}},
{"data":{"name":"ribbon"},"mark":{"type":"line","color":"#14709a","strokeWidth":0.9,"interpolate":"natural","clip":true},
"encoding":{"x":{"field":"k","type":"quantitative"},"y":{"field":"e","type":"quantitative"},"detail":{"field":"l"}}}
]}
]
}
